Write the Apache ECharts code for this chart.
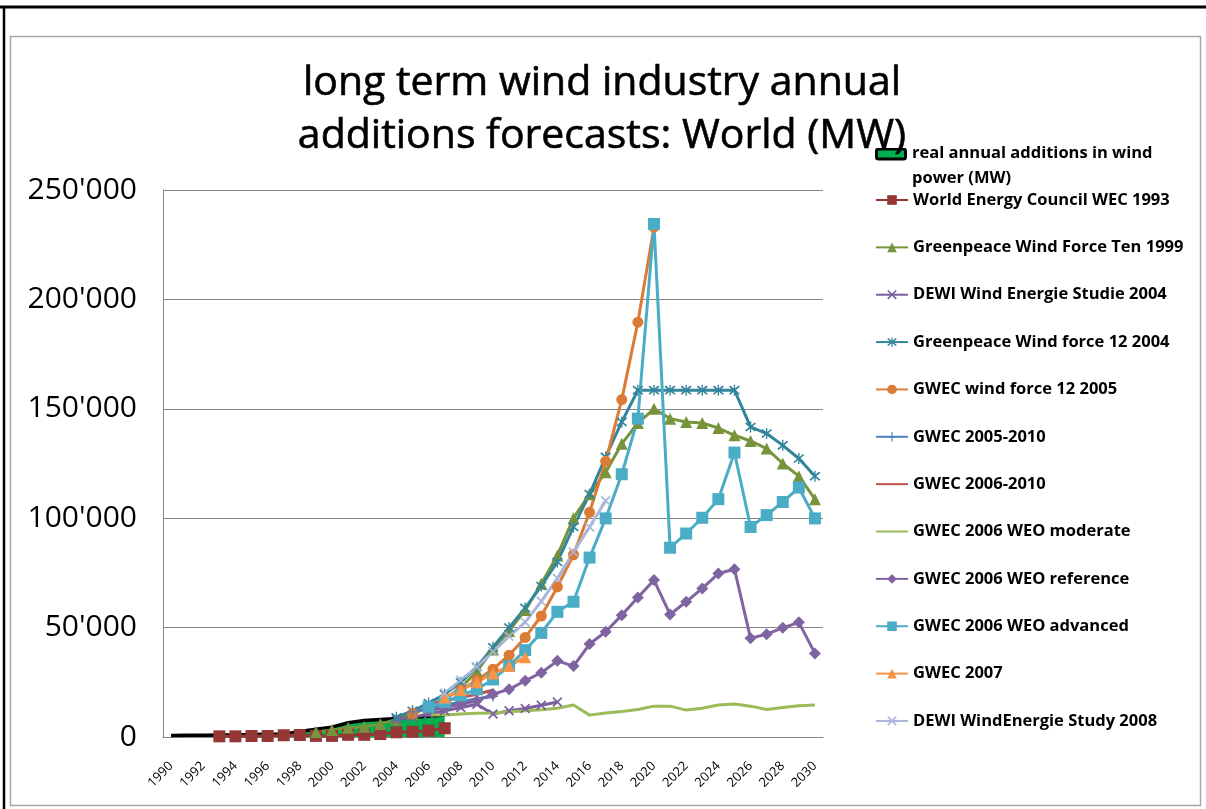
<!DOCTYPE html>
<html>
<head>
<meta charset="utf-8">
<script src="https://cdn.jsdelivr.net/npm/echarts@6/dist/echarts.min.js"></script>
<style>
html,body{margin:0;padding:0;background:#fff;}
#c{width:1206px;height:809px;}
</style>
</head>
<body>
<div id="c"></div>
<script>
const years = ['1990','1991','1992','1993','1994','1995','1996','1997','1998','1999','2000','2001','2002','2003','2004','2005','2006','2007','2008','2009','2010','2011','2012','2013','2014','2015','2016','2017','2018','2019','2020','2021','2022','2023','2024','2025','2026','2027','2028','2029','2030'];

// start year + values for each series
const realStart = 1990;
const realAdditions = [700, 800, 800, 900, 900, 1100, 1200, 1300, 2500, 3500, 4500, 6500, 7500, 8000, 8500, 9000, 9500, 10000];
const wec1993Start = 1993;
const wec1993 = [300, 300, 450, 450, 800, 900, 500, 500, 1000, 1000, 1350, 2150, 2400, 2900, 4000];
const gp10Start = 1999;
const gp10 = [2300, 3200, 4200, 4700, 5900, 8000, 10500, 13500, 17500, 22500, 30000, 40000, 48500, 58000, 70000, 83000, 100000, 111000, 121000, 134000, 143500, 150000, 145500, 144000, 143500, 141200, 137900, 135300, 131800, 125000, 119200, 108700];
const dewi2004Start = 2004;
const dewi2004 = [8000, 9000, 10500, 12000, 13500, 15000, 10500, 12000, 13000, 14500, 16000];
const gp12Start = 2004;
const gp12 = [9000, 12000, 15500, 19500, 25000, 32000, 41000, 50000, 59000, 69000, 80000, 96000, 111000, 128000, 144000, 158500, 158500, 158500, 158500, 158500, 158500, 158500, 141700, 138700, 133300, 127300, 119200];
const gwecWf12Start = 2005;
const gwecWf12 = [10800, 14000, 17500, 21500, 26000, 31000, 37400, 45500, 55300, 68600, 83300, 102700, 126000, 154200, 189600, 233000];
const gwec0510Start = 2005;
const gwec0510 = [11500, 13000, 14500, 16000, 17500, 18500];
const gwec0610Start = 2006;
const gwec0610 = [15000, 16500, 18000, 19500, 21500];
const weoModStart = 2006;
const weoMod = [10000, 10000, 10500, 10800, 11000, 11500, 12000, 12500, 13100, 14600, 10000, 11000, 11700, 12600, 14100, 14100, 12300, 13100, 14600, 15100, 14100, 12600, 13500, 14300, 14600];
const weoRefStart = 2006;
const weoRef = [12000, 13500, 15000, 16600, 19600, 21800, 25700, 29400, 34800, 32400, 42500, 48100, 55700, 63800, 71700, 56000, 61800, 67900, 74700, 76700, 45100, 47000, 49900, 52400, 38200];
const weoAdvStart = 2006;
const weoAdv = [13800, 16000, 19000, 21800, 26300, 32500, 39700, 47600, 57200, 61800, 82000, 99900, 120100, 145500, 234500, 86500, 93000, 100200, 108700, 130000, 96000, 101400, 107400, 114000, 99900];
const gwec2007Start = 2007;
const gwec2007 = [18000, 21500, 25000, 29000, 32500, 36500];
const dewi2008Start = 2007;
const dewi2008 = [20000, 26000, 32000, 39000, 46000, 52500, 62000, 72500, 84500, 96000, 108000];

const yTicks = [0, 50000, 100000, 150000, 200000, 250000];

function pad(start, vals) {
  const out = years.map(() => null);
  const off = start - Number(years[0]);
  vals.forEach((v, i) => { out[off + i] = v; });
  return out;
}

const X_PATH = 'path://M0,1.2 L1.2,0 L10,8.8 L8.8,10 Z M8.8,0 L10,1.2 L1.2,10 L0,8.8 Z';
const STAR_PATH = 'path://M0,1.2 L1.2,0 L10,8.8 L8.8,10 Z M8.8,0 L10,1.2 L1.2,10 L0,8.8 Z M4.4,-1 L5.6,-1 L5.6,11 L4.4,11 Z';
const PLUS_PATH = 'path://M4.4,0 L5.6,0 L5.6,10 L4.4,10 Z M0,4.4 L10,4.4 L10,5.6 L0,5.6 Z';
const REAL_ICON = 'image://data:image/svg+xml;utf8,' + encodeURIComponent(
  '<svg xmlns="http://www.w3.org/2000/svg" width="32" height="37" viewBox="0 0 32 37">' +
  '<rect x="1.5" y="1.5" width="29" height="10" rx="2" fill="#00B050" stroke="#000" stroke-width="3"/></svg>');

const names = {
  real: 'real annual additions in wind power (MW)',
  wec: 'World Energy Council WEC 1993',
  gp10: 'Greenpeace Wind Force Ten 1999',
  dewi04: 'DEWI Wind Energie Studie 2004',
  gp12: 'Greenpeace Wind force 12 2004',
  wf12: 'GWEC wind force 12 2005',
  g0510: 'GWEC 2005-2010',
  g0610: 'GWEC 2006-2010',
  mod: 'GWEC 2006 WEO moderate',
  ref: 'GWEC 2006 WEO reference',
  adv: 'GWEC 2006 WEO advanced',
  g07: 'GWEC 2007',
  dewi08: 'DEWI WindEnergie Study 2008'
};

function line(name, color, data, symbol, size) {
  return {
    name: name, type: 'line', data: data,
    symbol: symbol || 'none', symbolSize: size || 10,
    showAllSymbol: true, connectNulls: false,
    lineStyle: {color: color, width: 3},
    itemStyle: {color: color},
    emphasis: {disabled: true},
    animation: false
  };
}

const series = [
  {
    name: names.real, type: 'line', data: pad(realStart, realAdditions),
    symbol: 'none', lineStyle: {color: '#000', width: 3.5},
    itemStyle: {color: '#00B050'},
    areaStyle: {color: '#00B050', opacity: 1},
    emphasis: {disabled: true}, animation: false
  },
  line(names.wec, '#953735', pad(wec1993Start, wec1993), 'rect', 12),
  line(names.gp10, '#77933C', pad(gp10Start, gp10), 'triangle', 12),
  line(names.dewi04, '#7A5E9E', pad(dewi2004Start, dewi2004), X_PATH, 10),
  line(names.gp12, '#31859C', pad(gp12Start, gp12), STAR_PATH, 11),
  line(names.wf12, '#DB7B36', pad(gwecWf12Start, gwecWf12), 'circle', 11),
  line(names.g0510, '#4F81BD', pad(gwec0510Start, gwec0510), PLUS_PATH, 10),
  line(names.g0610, '#C0504D', pad(gwec0610Start, gwec0610), 'none'),
  line(names.mod, '#9BBB59', pad(weoModStart, weoMod), 'none'),
  line(names.ref, '#8064A2', pad(weoRefStart, weoRef), 'diamond', 12),
  line(names.adv, '#4BACC6', pad(weoAdvStart, weoAdv), 'rect', 12),
  line(names.g07, '#F79646', pad(gwec2007Start, gwec2007), 'triangle', 12),
  line(names.dewi08, '#A9B6DA', pad(dewi2008Start, dewi2008), X_PATH, 10)
];

const legendText = {fontFamily: 'Open Sans', fontWeight: 'bold', fontSize: 16.5, color: '#000', lineHeight: 20};

const chart = echarts.init(document.getElementById('c'), null, {renderer: 'canvas'});
chart.setOption({
  backgroundColor: '#fff',
  animation: false,
  title: {
    text: 'long term wind industry annual\nadditions forecasts: World (MW)',
    left: 597, textAlign: 'center', top: 52,
    textStyle: {fontFamily: 'Open Sans', fontWeight: 'normal', fontSize: 41, lineHeight: 53, color: '#000',
      textBorderColor: '#000', textBorderWidth: 0.6}
  },
  grid: {left: 163, right: 383, top: 190, bottom: 72, containLabel: false},
  xAxis: {
    type: 'category', data: years, boundaryGap: true,
    axisLine: {lineStyle: {color: '#868686', width: 1}},
    axisTick: {show: false},
    axisLabel: {interval: 1, rotate: 45, fontFamily: 'Open Sans', fontSize: 13, color: '#000', margin: 27}
  },
  yAxis: {
    type: 'value', min: yTicks[0], max: yTicks[yTicks.length - 1], interval: 50000,
    axisLine: {show: true, lineStyle: {color: '#868686', width: 1}},
    axisTick: {show: false},
    splitLine: {lineStyle: {color: '#868686', width: 1}},
    axisLabel: {
      fontFamily: 'Open Sans', fontSize: 30, color: '#000', margin: 26,
      formatter: v => String(v).replace(/\B(?=(\d{3})+(?!\d))/g, "'")
    }
  },
  legend: [
    {
      orient: 'vertical', left: 870, top: 136, itemWidth: 32, itemHeight: 37,
      data: [{name: names.real, icon: REAL_ICON}],
      formatter: () => 'real annual additions in wind\npower (MW)',
      textStyle: Object.assign({}, legendText, {lineHeight: 25}),
      selectedMode: false
    },
    {
      orient: 'vertical', left: 870, top: 185, itemWidth: 32, itemHeight: 12, itemGap: 27.36,
      data: [names.wec, names.gp10, names.dewi04, names.gp12, names.wf12, names.g0510,
        {name: names.g0610, itemStyle: {opacity: 0}},
        {name: names.mod, itemStyle: {opacity: 0}},
        names.ref, names.adv, names.g07, names.dewi08],
      textStyle: legendText,
      selectedMode: false
    }
  ],
  graphic: [
    {type: 'rect', shape: {x: 10.5, y: 36.5, width: 1190, height: 769}, style: {fill: 'none', stroke: '#a6a6a6', lineWidth: 1.5}, silent: true, z: -10},
    {type: 'line', shape: {x1: 0, y1: 7, x2: 1206, y2: 7}, style: {stroke: '#000', lineWidth: 3}, silent: true},
    {type: 'line', shape: {x1: 4, y1: 7, x2: 4, y2: 809}, style: {stroke: '#000', lineWidth: 2.5}, silent: true}
  ],
  series: series
});
</script>
</body>
</html>
